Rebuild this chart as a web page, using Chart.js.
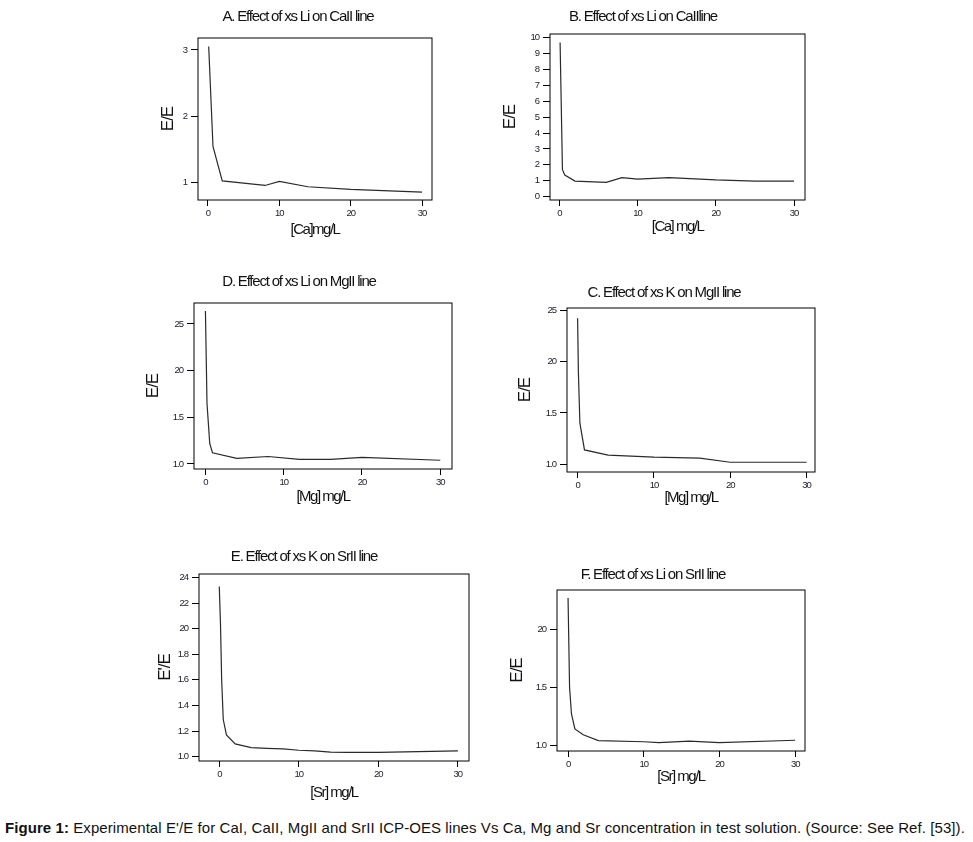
<!DOCTYPE html>
<html>
<head>
<meta charset="utf-8">
<script src="https://cdn.jsdelivr.net/npm/chart.js@4.4.1/dist/chart.umd.min.js"></script>
<style>
  body { margin: 0; background: #fff; width: 973px; height: 842px; position: relative; overflow: hidden; }
  canvas { position: absolute; }
  #caption { position: absolute; left: 5px; top: 819px; font-family: "Liberation Sans", Arial, sans-serif; font-size: 15px; letter-spacing: 0.075px; color: #111; white-space: nowrap; }
</style>
</head>
<body>
<canvas id="pA"></canvas>
<canvas id="pB"></canvas>
<canvas id="pD"></canvas>
<canvas id="pC"></canvas>
<canvas id="pE"></canvas>
<canvas id="pF"></canvas>
<div id="caption"><b>Figure 1:</b> Experimental E'/E for CaI, CaII, MgII and SrII ICP-OES lines Vs Ca, Mg and Sr concentration in test solution. (Source: See Ref. [53]).</div>
<script>
"use strict";

// values
const aX = [0.1, 0.7, 2, 8, 10, 14, 20, 30];
const aY = [3.05, 1.54, 1.02, 0.95, 1.01, 0.93, 0.89, 0.85];

const bX = [0.1, 0.4, 0.7, 2, 6, 8, 10, 14, 20, 25, 30];
const bY = [9.7, 1.7, 1.36, 0.98, 0.9, 1.2, 1.1, 1.2, 1.05, 0.98, 0.98];

const dX = [0, 0.2, 0.55, 0.9, 4, 8, 12, 16, 20, 30];
const dY = [2.64, 1.65, 1.22, 1.12, 1.06, 1.08, 1.05, 1.05, 1.07, 1.04];

const cX = [0, 0.1, 0.3, 0.9, 4, 10, 16, 20, 30];
const cY = [2.42, 1.9, 1.4, 1.14, 1.09, 1.07, 1.06, 1.02, 1.02];

const eX = [0, 0.15, 0.3, 0.5, 0.9, 2, 4, 6, 8, 10, 12, 14, 16, 20, 25, 30];
const eY = [2.33, 2.04, 1.6, 1.29, 1.17, 1.10, 1.07, 1.065, 1.06, 1.05, 1.045, 1.036, 1.034, 1.034, 1.04, 1.045];

const fX = [0, 0.2, 0.45, 0.9, 2, 4, 10, 12, 16, 20, 30];
const fY = [2.27, 1.5, 1.27, 1.14, 1.09, 1.04, 1.03, 1.023, 1.035, 1.023, 1.043];

// tick values and the labels as printed
const xTicks = [0, 10, 20, 30];
const aTicks = [1, 2, 3];
const aLabels = ['1', '2', '3'];
const bTicks = [0, 1, 2, 3, 4, 5, 6, 7, 8, 9, 10];
const bLabels = ['0', '1', '2', '3', '4', '5', '6', '7', '8', '9', '10'];
const mgTicks = [1.0, 1.5, 2.0, 2.5];
const mgLabels = ['1.0', '1.5', '20', '25'];
const eTicks = [1.0, 1.2, 1.4, 1.6, 1.8, 2.0, 2.2, 2.4];
const eLabels = ['1.0', '1.2', '1.4', '1.6', '1.8', '20', '22', '24'];
const fTicks = [1.0, 1.5, 2.0];
const fLabels = ['1.0', '1.5', '20'];

const titles = ['A. Effect of xs Li on CaII line', 'B. Effect of xs Li on CaIIline',
  'D. Effect of xs Li on MgII line', 'C. Effect of xs K on MgII line',
  'E. Effect of xs K on SrII line', 'F. Effect of xs Li on SrII line'];
const xTitles = ['[Ca]mg/L', '[Ca] mg/L', '[Mg] mg/L', '[Mg] mg/L', '[Sr] mg/L', '[Sr] mg/L'];
const yTitles = ['E/E', 'E/E', 'E/E', 'E/E', "E'/E", 'E/E'];

const FONT = '"Liberation Sans", Arial, sans-serif';
const ML = 60, MT = 30, MR = 10, MB = 45;

// box = plot frame on the page, ttl = title centre, ylx / xly = axis title centres
const panels = [
  { id: 'pA', xs: aX, ys: aY, yt: aTicks, yl: aLabels, xr: [-1.4, 31.4], yr: [0.73, 3.18],
    box: [198, 38, 432, 200], ttl: [298, 17], ylx: 168, xly: 230 },
  { id: 'pB', xs: bX, ys: bY, yt: bTicks, yl: bLabels, xr: [-1.19, 31.4], yr: [-0.21, 10.23],
    box: [550, 34, 805, 200], ttl: [643, 17], ylx: 510, xly: 227 },
  { id: 'pD', xs: dX, ys: dY, yt: mgTicks, yl: mgLabels, xr: [-1.46, 31.5], yr: [0.946, 2.725],
    box: [194, 303, 452, 469], ttl: [299, 282], ylx: 153, xly: 497 },
  { id: 'pC', xs: cX, ys: cY, yt: mgTicks, yl: mgLabels, xr: [-1.39, 31.1], yr: [0.925, 2.52],
    box: [567, 308, 815, 472], ttl: [664, 293], ylx: 525, xly: 498 },
  { id: 'pE', xs: eX, ys: eY, yt: eTicks, yl: eLabels, xr: [-2.55, 31.4], yr: [0.966, 2.427],
    box: [199, 574, 469, 761], ttl: [304, 557], ylx: 165, xly: 793 },
  { id: 'pF', xs: fX, ys: fY, yt: fTicks, yl: fLabels, xr: [-1.46, 31.3], yr: [0.95, 2.34],
    box: [557, 590, 805, 751], ttl: [653, 575], ylx: 517, xly: 777 }
];

// tight letter spacing like the original print, frame round the plot, and the texts
const framePlugin = {
  id: 'frame',
  beforeDraw(chart) {
    chart.ctx.letterSpacing = '-1px';
  },
  afterDraw(chart, args, o) {
    const { ctx, chartArea: a } = chart;
    ctx.save();
    ctx.strokeStyle = '#000';
    ctx.lineWidth = 1;
    ctx.strokeRect(a.left, a.top, a.right - a.left, a.bottom - a.top);
    ctx.fillStyle = '#111';
    ctx.textAlign = 'center';
    ctx.textBaseline = 'middle';
    ctx.letterSpacing = '-1.2px';
    ctx.font = '15px ' + FONT;
    ctx.fillText(o.title, o.tx, o.ty);
    ctx.letterSpacing = '-1.5px';
    ctx.font = '15px ' + FONT;
    ctx.fillText(o.xTitle, (a.left + a.right) / 2, o.xy);
    ctx.letterSpacing = '-1px';
    ctx.font = '17px ' + FONT;
    ctx.translate(o.yx, (a.top + a.bottom) / 2);
    ctx.rotate(-Math.PI / 2);
    ctx.fillText(o.yTitle, 0, 0);
    ctx.restore();
  }
};

panels.forEach((p, i) => {
  const cv = document.getElementById(p.id);
  const left = p.box[0] - ML, top = p.box[1] - MT;
  const w = p.box[2] - p.box[0] + ML + MR;
  const h = p.box[3] - p.box[1] + MT + MB;
  cv.style.left = left + 'px';
  cv.style.top = top + 'px';
  cv.style.width = w + 'px';
  cv.style.height = h + 'px';
  cv.width = w; cv.height = h;

  new Chart(cv, {
    type: 'line',
    data: {
      datasets: [{
        data: p.xs.map((x, k) => ({ x: x, y: p.ys[k] })),
        borderColor: '#2a2a2a',
        borderWidth: 1.2,
        pointRadius: 0,
        tension: 0,
        fill: false
      }]
    },
    options: {
      responsive: false,
      animation: false,
      devicePixelRatio: 1,
      layout: { padding: { left: 0, top: MT, right: MR, bottom: 0 } },
      plugins: {
        legend: { display: false },
        tooltip: { enabled: false },
        frame: {
          title: titles[i], tx: p.ttl[0] - left, ty: p.ttl[1] - top,
          xTitle: xTitles[i], xy: p.xly - top,
          yTitle: yTitles[i], yx: p.ylx - left
        }
      },
      scales: {
        x: {
          type: 'linear',
          min: p.xr[0], max: p.xr[1],
          afterFit: (s) => { s.height = MB; },
          afterBuildTicks: (s) => { s.ticks = xTicks.map(v => ({ value: v })); },
          grid: { display: true, drawOnChartArea: false, drawTicks: true, tickLength: 6, color: '#000' },
          border: { display: false },
          ticks: { color: '#1c1c2a', font: { family: FONT, size: 9.5 }, padding: 2, maxRotation: 0,
            callback: (v) => String(v) }
        },
        y: {
          type: 'linear',
          min: p.yr[0], max: p.yr[1],
          afterFit: (s) => { s.width = ML; },
          afterBuildTicks: (s) => { s.ticks = p.yt.map(v => ({ value: v })); },
          grid: { display: true, drawOnChartArea: false, drawTicks: true, tickLength: 7, color: '#000' },
          border: { display: false },
          ticks: { color: '#1c1c2a', font: { family: FONT, size: 9.5 }, padding: 4,
            callback: (v, k) => p.yl[k] }
        }
      }
    },
    plugins: [framePlugin]
  });
});
</script>
</body>
</html>
